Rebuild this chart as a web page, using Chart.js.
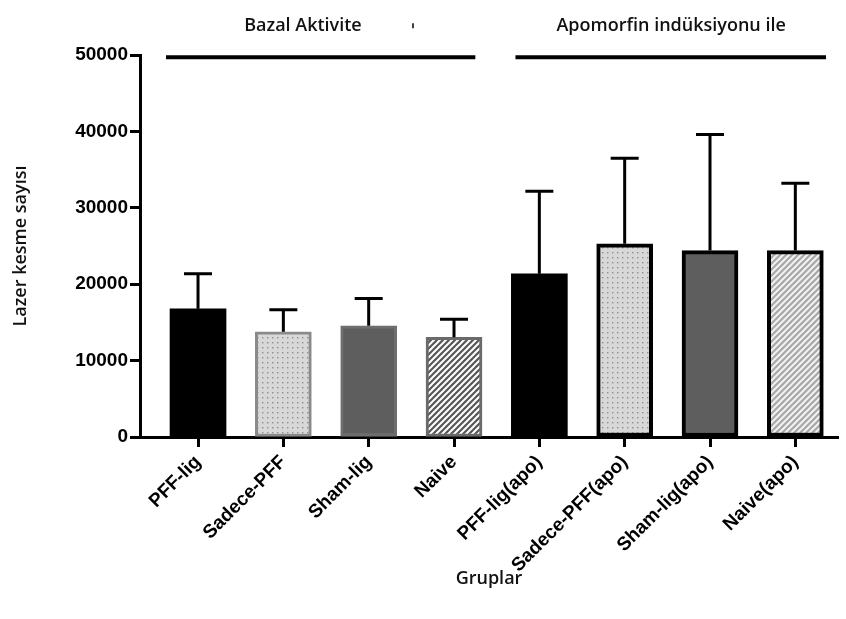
<!DOCTYPE html>
<html>
<head>
<meta charset="utf-8">
<script src="https://cdn.jsdelivr.net/npm/chart.js@4.4.1/dist/chart.umd.min.js"></script>
<style>
  html, body { margin: 0; padding: 0; background: #fff; }
</style>
</head>
<body>
<canvas id="barChart" width="846" height="619"></canvas>
<script>
// --- data ---
const groups = ['PFF-lig', 'Sadece-PFF', 'Sham-lig', 'Naive', 'PFF-lig(apo)', 'Sadece-PFF(apo)', 'Sham-lig(apo)', 'Naive(apo)'];
const means  = [16780, 13770, 14550, 13060, 21360, 25300, 24400, 24400];
const errors = [4580, 2880, 3580, 2360, 10810, 11200, 15200, 8800];
const yTicks = [0, 10000, 20000, 30000, 40000, 50000];

// section bars over the two groups of four (in category units)
const sectionLabels = ['Bazal Aktivite', 'Apomorfin indüksiyonu ile'];
const sectionFrom   = [-0.375, 3.72];
const sectionTo     = [3.25, 7.36];
const sectionText   = [1.23, 5.545];
const sectionLevel  = 49700;

const FONT = "'Liberation Sans', Arial, sans-serif";
const TITLE_FONT = "'Open Sans', 'Noto Sans', sans-serif";

function dotPattern(bg, dot) {
  const c = document.createElement('canvas');
  c.width = 5; c.height = 5;
  const g = c.getContext('2d');
  g.fillStyle = bg; g.fillRect(0, 0, 5, 5);
  g.fillStyle = dot; g.fillRect(2, 2, 1.4, 1.4);
  return g.createPattern(c, 'repeat');
}

function hatchPattern(bg, line) {
  const c = document.createElement('canvas');
  c.width = 6; c.height = 6;
  const g = c.getContext('2d');
  g.fillStyle = bg; g.fillRect(0, 0, 6, 6);
  g.strokeStyle = line; g.lineWidth = 2;
  g.beginPath();
  g.moveTo(0, 6); g.lineTo(6, 0);
  g.moveTo(-1, 1); g.lineTo(1, -1);
  g.moveTo(5, 7); g.lineTo(7, 5);
  g.stroke();
  return g.createPattern(c, 'repeat');
}

const fills = [
  '#000000', dotPattern('#d8d8d8', '#8e8e8e'), '#5e5e5e', hatchPattern('#585858', '#ffffff'),
  '#000000', dotPattern('#d8d8d8', '#8e8e8e'), '#5e5e5e', hatchPattern('#a8a8a8', '#f2f2f2'),
];
const borders = ['#000000', '#8a8a8a', '#6e6e6e', '#6a6a6a', '#000000', '#000000', '#000000', '#000000'];
const borderWidths = [0, 3, 3, 3, 0, 4, 4, 4];

// upper error bars (GraphPad style: only the top whisker)
const errorBarPlugin = {
  id: 'errorBars',
  afterDatasetsDraw(chart) {
    const { ctx, scales: { y } } = chart;
    const meta = chart.getDatasetMeta(0);
    ctx.save();
    ctx.strokeStyle = '#000';
    ctx.lineWidth = 3;
    meta.data.forEach((bar, i) => {
      const top = y.getPixelForValue(means[i] + errors[i]);
      ctx.beginPath();
      ctx.moveTo(bar.x, bar.y);
      ctx.lineTo(bar.x, top);
      ctx.moveTo(bar.x - 14, top);
      ctx.lineTo(bar.x + 14, top);
      ctx.stroke();
    });
    ctx.restore();
  },
};

// the two section headers with their horizontal rules
const sectionPlugin = {
  id: 'sections',
  afterDraw(chart) {
    const { ctx, scales: { x, y } } = chart;
    const lineY = y.getPixelForValue(sectionLevel);
    ctx.save();
    ctx.strokeStyle = '#000';
    ctx.lineWidth = 4;
    ctx.fillStyle = '#111';
    ctx.font = "600 18px " + TITLE_FONT;
    ctx.textAlign = 'center';
    ctx.textBaseline = 'middle';
    sectionLabels.forEach((label, i) => {
      const x0 = x.getPixelForValue(sectionFrom[i]);
      const x1 = x.getPixelForValue(sectionTo[i]);
      ctx.beginPath();
      ctx.moveTo(x0, lineY);
      ctx.lineTo(x1, lineY);
      ctx.stroke();
      ctx.fillText(label, x.getPixelForValue(sectionText[i]), lineY - 31);
    });
    // small stray mark between the headers
    ctx.lineWidth = 1.5;
    ctx.beginPath();
    ctx.moveTo(413, lineY - 34);
    ctx.lineTo(413, lineY - 29);
    ctx.stroke();
    ctx.restore();
  },
};

new Chart(document.getElementById('barChart'), {
  type: 'bar',
  data: {
    datasets: [{
      data: means.map((v, i) => ({ x: i, y: v })),
      backgroundColor: fills,
      borderColor: borders,
      borderWidth: borderWidths,
      borderSkipped: false,
      barThickness: 56,
    }],
  },
  options: {
    responsive: false,
    animation: false,
    layout: { padding: { top: 55, right: 8, bottom: 0, left: 0 } },
    plugins: { legend: { display: false }, tooltip: { enabled: false } },
    scales: {
      x: {
        type: 'linear',
        offset: false,
        min: -0.68,
        max: 7.5,
        afterBuildTicks(scale) { scale.ticks = groups.map((_, i) => ({ value: i })); },
        afterFit(scale) { scale.height = 182; },
        grid: { offset: false, drawOnChartArea: false, tickLength: 10, tickWidth: 3, tickColor: '#000' },
        border: { color: '#000', width: 3 },
        ticks: {
          autoSkip: false,
          minRotation: 45,
          maxRotation: 45,
          padding: 4,
          color: '#000',
          font: { family: FONT, size: 19, weight: 'bold' },
          callback: value => groups[value],
        },
        title: {
          display: true,
          text: 'Gruplar',
          color: '#111',
          font: { family: TITLE_FONT, size: 18, weight: '600' },
          padding: { top: 0, bottom: 29 },
        },
      },
      y: {
        min: 0,
        max: 50000,
        afterBuildTicks(scale) { scale.ticks = yTicks.map(v => ({ value: v })); },
        afterFit(scale) { scale.width = 140; },
        grid: { drawOnChartArea: false, tickLength: 10, tickWidth: 3, tickColor: '#000' },
        border: { color: '#000', width: 3 },
        ticks: {
          padding: 2,
          color: '#000',
          font: { family: FONT, size: 19, weight: 'bold' },
          callback: value => String(value),
        },
        title: {
          display: true,
          text: 'Lazer kesme sayısı',
          color: '#111',
          font: { family: TITLE_FONT, size: 18, weight: '600' },
          padding: { top: 10, bottom: 0 },
        },
      },
    },
  },
  plugins: [errorBarPlugin, sectionPlugin],
});
</script>
</body>
</html>
